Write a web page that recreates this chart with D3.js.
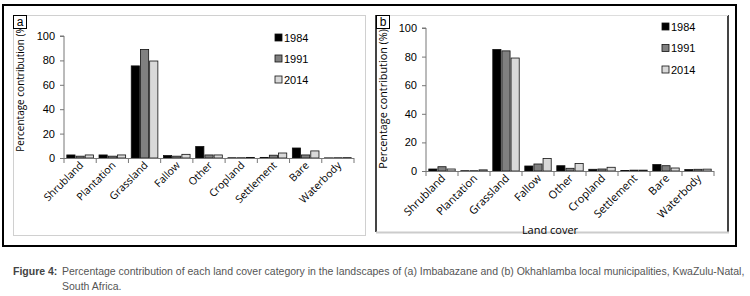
<!DOCTYPE html>
<html lang="en">
<head>
<meta charset="UTF-8">
<title>Land cover contribution</title>
<script src="https://d3js.org/d3.v7.min.js"></script>
<style>
  body { margin: 0; background: #fff; }
  svg { display: block; }
</style>
</head>
<body>
<svg width="750" height="296"></svg>
<script>
// categories and series
const categories = ["Shrubland", "Plantation", "Grassland", "Fallow", "Other", "Cropland", "Settlement", "Bare", "Waterbody"];
const years = ["1984", "1991", "2014"];
const yTicks = [0, 20, 40, 60, 80, 100];

// (a) Imbabazane
const imbabazane1984 = [2.5, 2.5, 75.5, 2.0, 9.4, 0.2, 0.5, 8.2, 0.1];
const imbabazane1991 = [1.5, 1.5, 89.0, 1.5, 2.5, 0.2, 2.3, 2.5, 0.2];
const imbabazane2014 = [2.5, 2.5, 79.5, 3.0, 2.5, 0.5, 4.1, 5.8, 0.3];

// (b) Okhahlamba
const okhahlamba1984 = [1.4, 0.2, 85.0, 3.5, 3.7, 1.2, 0.3, 4.5, 1.0];
const okhahlamba1991 = [3.0, 0.2, 84.0, 4.9, 1.9, 1.4, 0.6, 3.7, 1.2];
const okhahlamba2014 = [1.4, 0.8, 79.0, 8.7, 5.2, 2.6, 0.6, 2.1, 1.3];

const colors = ["#000000", "#808080", "#d9d9d9"];
const svg = d3.select("svg");
const numFont = "'Liberation Sans', Arial, sans-serif";
const lblFont = "'Open Sans', 'Noto Sans', sans-serif";

// outer frame
svg.append("rect").attr("x", 3).attr("y", 5).attr("width", 733).attr("height", 241)
  .attr("fill", "none").attr("stroke", "#000").attr("stroke-width", 2);

// panel a frame
svg.append("rect").attr("x", 13.5).attr("y", 15.5).attr("width", 352).attr("height", 220)
  .attr("fill", "none").attr("stroke", "#d0d0d0").attr("stroke-width", 1);

// panel b frame
svg.append("line").attr("x1", 376).attr("x2", 376).attr("y1", 15).attr("y2", 232)
  .attr("stroke", "#444").attr("stroke-width", 2);
svg.append("line").attr("x1", 728).attr("x2", 728).attr("y1", 15).attr("y2", 232)
  .attr("stroke", "#444").attr("stroke-width", 2);
svg.append("line").attr("x1", 376).attr("x2", 728).attr("y1", 15.5).attr("y2", 15.5)
  .attr("stroke", "#ddd");
svg.append("line").attr("x1", 376).attr("x2", 729).attr("y1", 232.5).attr("y2", 232.5)
  .attr("stroke", "#ccc").attr("stroke-width", 2);

function drawPanel(opt) {
  const g = svg.append("g");
  const x = d3.scaleBand().domain(categories).range([opt.x0, opt.x1]).paddingInner(0).paddingOuter(0);
  const inner = d3.scaleBand().domain(years).range([0, x.bandwidth()]).paddingOuter(0.25).paddingInner(0);
  const y = d3.scaleLinear().domain([0, 100]).range([opt.y0, opt.y100]);

  // bars
  const rows = categories.map((c, i) => ({ cat: c, vals: opt.series.map(s => s[i]) }));
  const grp = g.selectAll("g.grp").data(rows).enter().append("g")
    .attr("transform", d => `translate(${x(d.cat)},0)`);
  grp.selectAll("rect").data(d => d.vals.map((v, k) => ({ v, k })))
    .enter().append("rect")
    .attr("x", d => inner(years[d.k]) + 0.5)
    .attr("width", inner.bandwidth() - 1)
    .attr("y", d => y(d.v))
    .attr("height", d => y(0) - y(d.v))
    .attr("fill", d => colors[d.k])
    .attr("stroke", "#111")
    .attr("stroke-width", 0.8);

  // y axis
  const ya = g.append("g").attr("transform", `translate(${opt.x0},0)`)
    .call(d3.axisLeft(y).tickValues(yTicks).tickSize(4).tickPadding(5));
  ya.select(".domain").attr("stroke", "#777").attr("d", `M-4,${opt.y100}H0V${opt.y0}`);
  ya.selectAll(".tick line").attr("stroke", "#777");
  ya.selectAll("text").attr("font-family", numFont).attr("font-size", opt.tickSize).attr("fill", "#000");

  // x axis
  const xa = g.append("g").attr("transform", `translate(0,${opt.y0})`);
  xa.append("line").attr("x1", opt.x0).attr("x2", opt.x1).attr("y1", 0.5).attr("y2", 0.5).attr("stroke", "#777");
  const bounds = categories.map(c => x(c)).concat([opt.x1]);
  xa.selectAll("line.tk").data(bounds).enter().append("line").attr("class", "tk")
    .attr("x1", d => d).attr("x2", d => d).attr("y1", 0).attr("y2", 5).attr("stroke", "#777");
  xa.selectAll("text.cat").data(categories).enter().append("text").attr("class", "cat")
    .attr("transform", d => `translate(${x(d) + x.bandwidth() / 2 + 4},${opt.lblDy}) rotate(-45)`)
    .attr("text-anchor", "end")
    .attr("font-family", lblFont)
    .attr("font-size", opt.catSize)
    .text(d => d);

  // y title
  g.append("text")
    .attr("transform", `translate(${opt.titleX},${opt.titleY}) rotate(-90)`)
    .attr("text-anchor", "middle")
    .attr("font-family", lblFont)
    .attr("font-size", opt.titleSize)
    .text("Percentage contribution (%)");

  // legend
  const lg = g.selectAll("g.lg").data(years).enter().append("g").attr("class", "lg")
    .attr("transform", (d, i) => `translate(${opt.legX},${opt.legY + i * opt.legStep})`);
  lg.append("rect").attr("x", 0).attr("y", -4).attr("width", 7).attr("height", 7)
    .attr("fill", (d, i) => colors[i]).attr("stroke", "#111").attr("stroke-width", 0.8);
  lg.append("text").attr("x", 9).attr("y", 0).attr("dy", "0.35em")
    .attr("font-family", numFont).attr("font-size", opt.tickSize).text(d => d);

  // panel letter
  svg.append("rect").attr("x", opt.letterX).attr("y", 15.5).attr("width", 13).attr("height", 13)
    .attr("fill", "#fff").attr("stroke", "#000").attr("stroke-width", 1);
  svg.append("text").attr("x", opt.letterX + 6.5).attr("y", 26).attr("text-anchor", "middle")
    .attr("font-family", numFont).attr("font-size", 12).text(opt.letter);
}

drawPanel({
  series: [imbabazane1984, imbabazane1991, imbabazane2014],
  x0: 64, x1: 354, y0: 158, y100: 36,
  lblDy: 8, catSize: 10.5, tickSize: 11,
  titleX: 24, titleY: 87, titleSize: 10,
  legX: 275, legY: 38, legStep: 21,
  letter: "a", letterX: 13.5
});

drawPanel({
  series: [okhahlamba1984, okhahlamba1991, okhahlamba2014],
  x0: 426, x1: 714, y0: 171, y100: 28,
  lblDy: 8, catSize: 11, tickSize: 11,
  titleX: 387, titleY: 99, titleSize: 10.8,
  legX: 662, legY: 27, legStep: 21.5,
  letter: "b", letterX: 376.5
});

// x title panel b
svg.append("text").attr("x", 550).attr("y", 234).attr("text-anchor", "middle")
  .attr("font-family", lblFont).attr("font-size", 11).text("Land cover");

// caption
const cap = svg.append("g").attr("font-family", "'Liberation Sans Narrow', 'Arial Narrow', 'Liberation Sans', sans-serif")
  .attr("font-size", 10.5).attr("fill", "#555");
cap.append("text").attr("x", 13).attr("y", 275).attr("font-weight", "bold").attr("fill", "#444").text("Figure 4:");
cap.append("text").attr("x", 62).attr("y", 275)
  .text("Percentage contribution of each land cover category in the landscapes of (a) Imbabazane and (b) Okhahlamba local municipalities, KwaZulu-Natal,");
cap.append("text").attr("x", 62).attr("y", 290).text("South Africa.");
</script>
</body>
</html>
